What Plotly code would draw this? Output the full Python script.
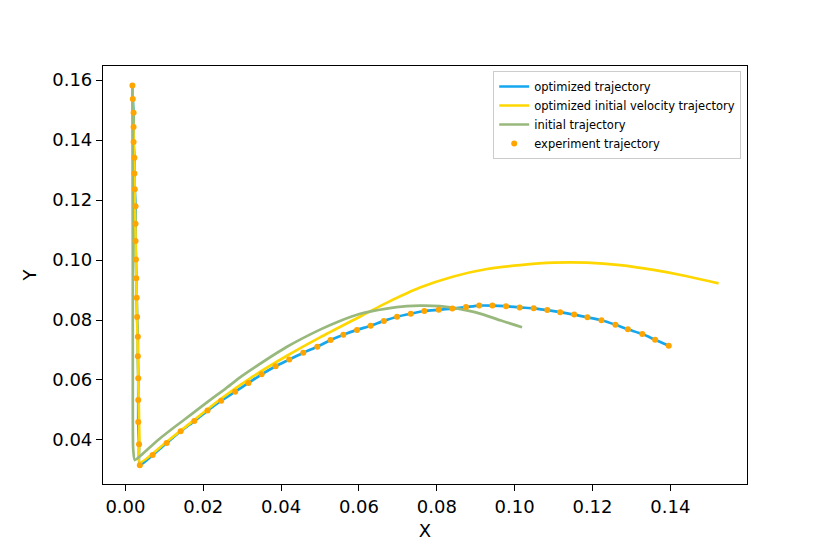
import plotly.graph_objects as go

# --- data ---
exp_x = [0.0018, 0.0019, 0.0021, 0.0021, 0.0021, 0.0023, 0.0023, 0.0024, 0.0026, 0.0026,
         0.0026, 0.0027, 0.0028, 0.0029, 0.0030, 0.0032, 0.0032, 0.0033, 0.0033, 0.0033,
         0.0035, 0.0037, 0.0070, 0.0106, 0.0142, 0.0177, 0.0211, 0.0246, 0.0282, 0.0316,
         0.0350, 0.0386, 0.0421, 0.0457, 0.0493, 0.0527, 0.0560, 0.0595, 0.0630, 0.0664,
         0.0698, 0.0733, 0.0768, 0.0805, 0.0840, 0.0875, 0.0909, 0.0943, 0.0978, 0.1013,
         0.1049, 0.1084, 0.1117, 0.1153, 0.1187, 0.1223, 0.1259, 0.1291, 0.1328, 0.1361,
         0.1396]
exp_y = [0.1582, 0.1537, 0.1491, 0.1443, 0.1393, 0.1341, 0.1288, 0.1236, 0.1179, 0.1121,
         0.1063, 0.1002, 0.0939, 0.0874, 0.0810, 0.0744, 0.0679, 0.0606, 0.0533, 0.0460,
         0.0386, 0.0316, 0.0350, 0.0390, 0.0429, 0.0463, 0.0498, 0.0531, 0.0561, 0.0590,
         0.0619, 0.0646, 0.0668, 0.0691, 0.0711, 0.0733, 0.0751, 0.0767, 0.0781, 0.0797,
         0.0811, 0.0821, 0.0830, 0.0834, 0.0838, 0.0843, 0.0848, 0.0848, 0.0846, 0.0842,
         0.0839, 0.0833, 0.0826, 0.0818, 0.0809, 0.0799, 0.0784, 0.0769, 0.0753, 0.0734,
         0.0714]

# optimized trajectory sits on the experiment points
opt_x = list(exp_x)
opt_y = list(exp_y)

vel_x = [0.0018, 0.0023, 0.0028, 0.0033, 0.0036, 0.0037, 0.0106, 0.0177, 0.0243, 0.0328,
         0.0414, 0.0500, 0.0586, 0.0671, 0.0757, 0.0843, 0.0929, 0.1014, 0.1100, 0.1186,
         0.1271, 0.1357, 0.1443, 0.1524]
vel_y = [0.1582, 0.1288, 0.0939, 0.0606, 0.0400, 0.0325, 0.0394, 0.0467, 0.0535, 0.0612,
         0.0680, 0.0742, 0.0800, 0.0857, 0.0908, 0.0945, 0.0970, 0.0983, 0.0991, 0.0991,
         0.0983, 0.0967, 0.0946, 0.0922]

init_x = [0.0018, 0.0019, 0.0019, 0.0020, 0.0024, 0.0041, 0.0084, 0.0127, 0.0170, 0.0212,
          0.0255, 0.0298, 0.0333, 0.0414, 0.0500, 0.0551, 0.0603, 0.0671, 0.0723, 0.0757,
          0.0808, 0.0877, 0.0920, 0.0963, 0.1019]
init_y = [0.1582, 0.1000, 0.0500, 0.0370, 0.0333, 0.0350, 0.0400, 0.0444, 0.0486, 0.0528,
          0.0569, 0.0612, 0.0643, 0.0710, 0.0768, 0.0797, 0.0821, 0.0838, 0.0846, 0.0848,
          0.0846, 0.0832, 0.0818, 0.0799, 0.0776]

x_ticks = [0.00, 0.02, 0.04, 0.06, 0.08, 0.10, 0.12, 0.14]
y_ticks = [0.04, 0.06, 0.08, 0.10, 0.12, 0.14, 0.16]

FONT = "DejaVu Sans"

fig = go.Figure()

fig.add_trace(go.Scatter(
    x=opt_x, y=opt_y, mode='lines', name='optimized trajectory',
    line=dict(color='#14a6ef', width=2.7, shape='spline', smoothing=0.6)
))
fig.add_trace(go.Scatter(
    x=vel_x, y=vel_y, mode='lines', name='optimized initial velocity trajectory',
    line=dict(color='#ffd700', width=2.7, shape='spline', smoothing=0.6)
))
fig.add_trace(go.Scatter(
    x=init_x, y=init_y, mode='lines', name='initial trajectory',
    line=dict(color='#98b87c', width=2.7, shape='spline', smoothing=0.6)
))
fig.add_trace(go.Scatter(
    x=exp_x, y=exp_y, mode='markers', name='experiment trajectory',
    marker=dict(color='#ffa500', size=6, line=dict(width=0))
))

axis_style = dict(
    showline=True, linecolor='black', linewidth=1.2, mirror=True,
    ticks='outside', ticklen=6, tickwidth=1.2, tickcolor='black',
    showgrid=False, zeroline=False,
    tickfont=dict(family=FONT, size=18, color='black'),
)

# page body adds an 8px offset, margins compensate for it
fig.update_layout(
    width=830, height=554,
    margin=dict(l=95, r=91, t=58, b=78),
    paper_bgcolor='white', plot_bgcolor='white',
    font=dict(family=FONT, color='black'),
    showlegend=True,
    legend=dict(
        x=0.991, y=0.988, xanchor='right', yanchor='top',
        bgcolor='rgba(255,255,255,0.8)', bordercolor='#cccccc', borderwidth=1,
        font=dict(family=FONT, size=11.5, color='black'),
        tracegroupgap=0, itemwidth=30,
    ),
    xaxis=dict(
        axis_style, range=[-0.00576, 0.1597], tickvals=x_ticks,
        ticktext=[f'{v:.2f}' for v in x_ticks],
        title=dict(text='X', font=dict(family=FONT, size=18), standoff=8),
    ),
    yaxis=dict(
        axis_style, range=[0.02533, 0.16467], tickvals=y_ticks,
        ticktext=[f'{v:.2f}' for v in y_ticks],
        title=dict(text='Y', font=dict(family=FONT, size=18), standoff=10),
    ),
)

fig.write_html("out.html")
